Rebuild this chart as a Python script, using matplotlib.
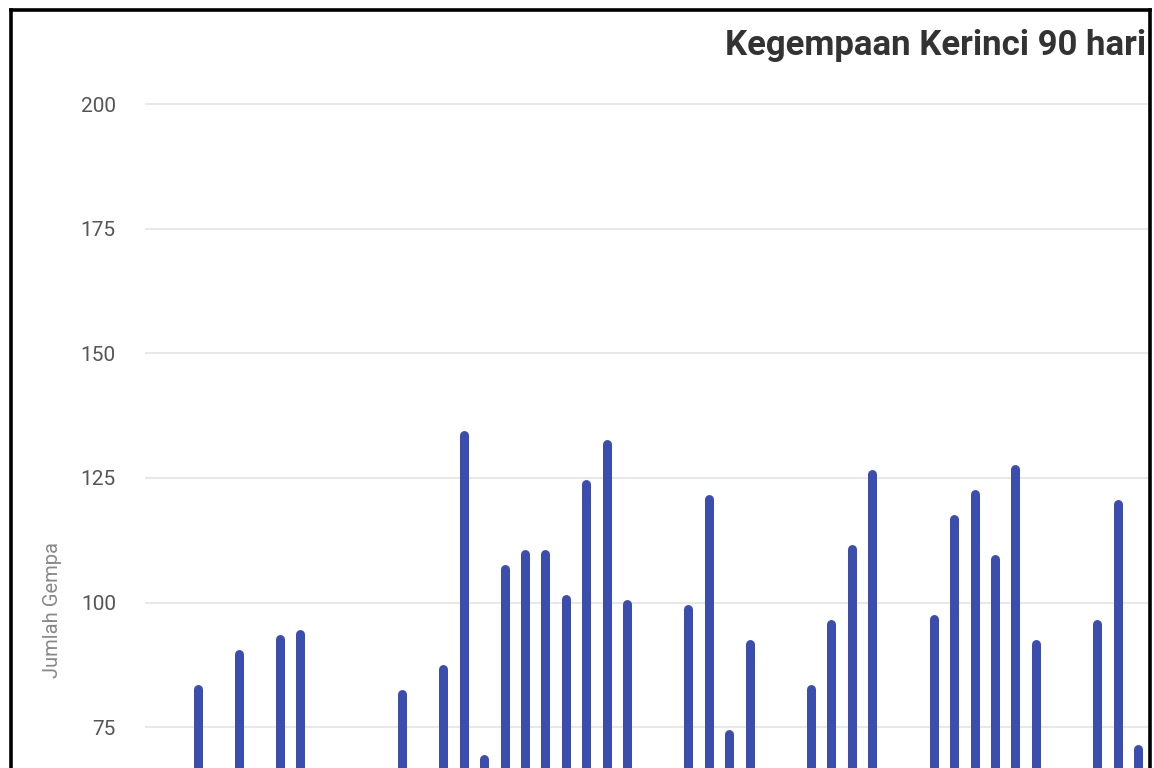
import matplotlib
matplotlib.use("Agg")
import matplotlib.pyplot as plt
from matplotlib.lines import Line2D

# ---- data (daily earthquake counts; days below the visible range estimated) ----
days = list(range(-2, 47))
counts = [55, 60,
          83, 67, 90, 60, 93, 94, 58, 55, 57, 60, 82, 62, 87, 134, 69, 107, 110, 110,
          101, 124, 132, 100, 60, 58, 99, 121, 74, 92, 61, 59, 83, 96, 111, 126,
          67, 62, 97, 117, 122, 109, 127, 92, 60, 58, 96, 120, 71]
yticks = [75, 100, 125, 150, 175, 200]
title = "Kegempaan Kerinci 90 hari"
ylabel = "Jumlah Gempa"

W, H = 1154, 768
fig = plt.figure(figsize=(W / 100, H / 100), dpi=100)
fig.patch.set_facecolor("white")

# axes in pixel geometry
left_px, right_px = 145, 1150
ax = fig.add_axes([left_px / W, 0, (right_px - left_px) / W, 1])
ax.set_facecolor("white")

px_per_day = 20.435
x0_px = 198  # pixel of day 0
ax.set_xlim((left_px - x0_px) / px_per_day, (right_px - x0_px) / px_per_day)

px_per_unit = 4.985
y200_px = 104
ax.set_ylim(200 - (H - y200_px) / px_per_unit, 200 + y200_px / px_per_unit)

bar_color = "#3C4DB0"
lw_px = 9
cap = 1.5 / px_per_unit
ax.vlines(days, 0, [c - cap for c in counts], colors=bar_color,
          linewidth=lw_px * 0.72, capstyle="round", zorder=3)

ax.set_yticks(yticks)
ax.set_yticklabels([str(t) for t in yticks], fontsize=15, color="#555555",
                   family=["Roboto", "DejaVu Sans"])
ax.tick_params(axis="y", length=0, pad=21)
ax.set_xticks([])
ax.grid(axis="y", color="#e4e4e4", linewidth=1.2, zorder=0)
for s in ax.spines.values():
    s.set_visible(False)

# title (clipped by the chart frame)
ax.text((725 - left_px) / (right_px - left_px), 1 - 46 / H, title,
        transform=ax.transAxes, fontsize=25, fontweight="bold", color="#333333",
        family=["Roboto", "DejaVu Sans"], va="center", ha="left", clip_on=True)

fig.text(53 / W, 1 - 610 / H, ylabel, rotation=90, fontsize=14.5, color="#888888",
         family=["Roboto", "DejaVu Sans"], va="center", ha="center")

# black frame of the screenshot
def fl(x1, y1, x2, y2):
    fig.add_artist(Line2D([x1 / W, x2 / W], [1 - y1 / H, 1 - y2 / H],
                          transform=fig.transFigure, color="black", linewidth=2.6,
                          solid_capstyle="projecting"))

fl(11, 9.5, 1150, 9.5)
fl(11, 9.5, 11, 768)
fl(1150, 9.5, 1150, 768)

fig.savefig("out.png", dpi=100, facecolor="white")
